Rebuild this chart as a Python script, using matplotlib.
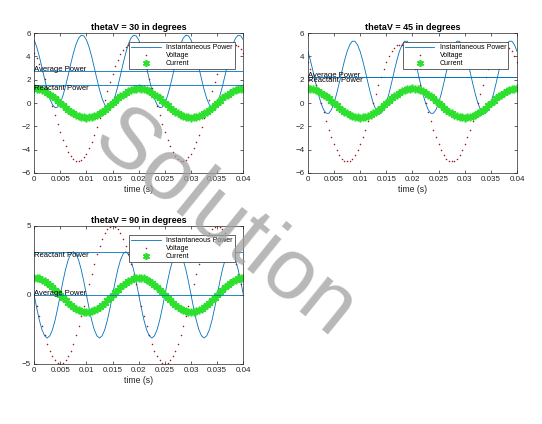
import matplotlib
matplotlib.use("Agg")
import matplotlib.pyplot as plt
from matplotlib.lines import Line2D
import numpy as np

plt.rcParams['font.family'] = ['Liberation Sans', 'DejaVu Sans']

# sample instants (s), step 0.5 ms
t = np.linspace(0, 0.04, 81)

# current is the same in every panel
current = [1.25, 1.23, 1.19, 1.11, 1.01, 0.88, 0.73, 0.57, 0.39, 0.20, 0.00,
           -0.20, -0.39, -0.57, -0.73, -0.88, -1.01, -1.11, -1.19, -1.23, -1.25,
           -1.23, -1.19, -1.11, -1.01, -0.88, -0.73, -0.57, -0.39, -0.20, 0.00,
           0.20, 0.39, 0.57, 0.73, 0.88, 1.01, 1.11, 1.19, 1.23, 1.25,
           1.23, 1.19, 1.11, 1.01, 0.88, 0.73, 0.57, 0.39, 0.20, 0.00,
           -0.20, -0.39, -0.57, -0.73, -0.88, -1.01, -1.11, -1.19, -1.23, -1.25,
           -1.23, -1.19, -1.11, -1.01, -0.88, -0.73, -0.57, -0.39, -0.20, 0.00,
           0.20, 0.39, 0.57, 0.73, 0.88, 1.01, 1.11, 1.19, 1.23, 1.25]

voltage_30 = [4.33, 3.89, 3.35, 2.72, 2.03, 1.29, 0.52, -0.26, -1.04, -1.79, -2.50,
              -3.15, -3.72, -4.19, -4.57, -4.83, -4.97, -4.99, -4.89, -4.67, -4.33,
              -3.89, -3.35, -2.72, -2.03, -1.29, -0.52, 0.26, 1.04, 1.79, 2.50,
              3.15, 3.72, 4.19, 4.57, 4.83, 4.97, 4.99, 4.89, 4.67, 4.33,
              3.89, 3.35, 2.72, 2.03, 1.29, 0.52, -0.26, -1.04, -1.79, -2.50,
              -3.15, -3.72, -4.19, -4.57, -4.83, -4.97, -4.99, -4.89, -4.67, -4.33,
              -3.89, -3.35, -2.72, -2.03, -1.29, -0.52, 0.26, 1.04, 1.79, 2.50,
              3.15, 3.72, 4.19, 4.57, 4.83, 4.97, 4.99, 4.89, 4.67, 4.33]

voltage_45 = [3.54, 2.94, 2.27, 1.55, 0.78, 0.00, -0.78, -1.55, -2.27, -2.94, -3.54,
              -4.05, -4.46, -4.76, -4.94, -5.00, -4.94, -4.76, -4.46, -4.05, -3.54,
              -2.94, -2.27, -1.55, -0.78, 0.00, 0.78, 1.55, 2.27, 2.94, 3.54,
              4.05, 4.46, 4.76, 4.94, 5.00, 4.94, 4.76, 4.46, 4.05, 3.54,
              2.94, 2.27, 1.55, 0.78, 0.00, -0.78, -1.55, -2.27, -2.94, -3.54,
              -4.05, -4.46, -4.76, -4.94, -5.00, -4.94, -4.76, -4.46, -4.05, -3.54,
              -2.94, -2.27, -1.55, -0.78, 0.00, 0.78, 1.55, 2.27, 2.94, 3.54,
              4.05, 4.46, 4.76, 4.94, 5.00, 4.94, 4.76, 4.46, 4.05, 3.54]

voltage_90 = [0.00, -0.78, -1.55, -2.27, -2.94, -3.54, -4.05, -4.46, -4.76, -4.94, -5.00,
              -4.94, -4.76, -4.46, -4.05, -3.54, -2.94, -2.27, -1.55, -0.78, 0.00,
              0.78, 1.55, 2.27, 2.94, 3.54, 4.05, 4.46, 4.76, 4.94, 5.00,
              4.94, 4.76, 4.46, 4.05, 3.54, 2.94, 2.27, 1.55, 0.78, 0.00,
              -0.78, -1.55, -2.27, -2.94, -3.54, -4.05, -4.46, -4.76, -4.94, -5.00,
              -4.94, -4.76, -4.46, -4.05, -3.54, -2.94, -2.27, -1.55, -0.78, 0.00,
              0.78, 1.55, 2.27, 2.94, 3.54, 4.05, 4.46, 4.76, 4.94, 5.00,
              4.94, 4.76, 4.46, 4.05, 3.54, 2.94, 2.27, 1.55, 0.78, 0.00]

power_30 = [5.41, 4.80, 3.98, 3.03, 2.06, 1.14, 0.38, -0.15, -0.40, -0.35,
            0.00, 0.62, 1.43, 2.38, 3.36, 4.27, 5.03, 5.56, 5.81, 5.76,
            5.41, 4.80, 3.98, 3.03, 2.06, 1.14, 0.38, -0.15, -0.40, -0.35,
            0.00, 0.62, 1.43, 2.38, 3.36, 4.27, 5.03, 5.56, 5.81, 5.76,
            5.41, 4.80, 3.98, 3.03, 2.06, 1.14, 0.38, -0.15, -0.40, -0.35,
            0.00, 0.62, 1.43, 2.38, 3.36, 4.27, 5.03, 5.56, 5.81, 5.76,
            5.41, 4.80, 3.98, 3.03, 2.06, 1.14, 0.38, -0.15, -0.40, -0.35,
            0.00, 0.62, 1.43, 2.38, 3.36, 4.27, 5.03, 5.56, 5.81, 5.76,
            5.41]

power_45 = [4.42, 3.63, 2.70, 1.72, 0.79, 0.00, -0.57, -0.88, -0.88, -0.57,
            0.00, 0.79, 1.72, 2.70, 3.63, 4.42, 4.99, 5.30, 5.30, 4.99,
            4.42, 3.63, 2.70, 1.72, 0.79, 0.00, -0.57, -0.88, -0.88, -0.57,
            0.00, 0.79, 1.72, 2.70, 3.63, 4.42, 4.99, 5.30, 5.30, 4.99,
            4.42, 3.63, 2.70, 1.72, 0.79, 0.00, -0.57, -0.88, -0.88, -0.57,
            0.00, 0.79, 1.72, 2.70, 3.63, 4.42, 4.99, 5.30, 5.30, 4.99,
            4.42, 3.63, 2.70, 1.72, 0.79, 0.00, -0.57, -0.88, -0.88, -0.57,
            0.00, 0.79, 1.72, 2.70, 3.63, 4.42, 4.99, 5.30, 5.30, 4.99,
            4.42]

power_90 = [0.00, -0.97, -1.84, -2.53, -2.97, -3.13, -2.97, -2.53, -1.84, -0.97,
            0.00, 0.97, 1.84, 2.53, 2.97, 3.13, 2.97, 2.53, 1.84, 0.97,
            0.00, -0.97, -1.84, -2.53, -2.97, -3.13, -2.97, -2.53, -1.84, -0.97,
            0.00, 0.97, 1.84, 2.53, 2.97, 3.13, 2.97, 2.53, 1.84, 0.97,
            0.00, -0.97, -1.84, -2.53, -2.97, -3.13, -2.97, -2.53, -1.84, -0.97,
            0.00, 0.97, 1.84, 2.53, 2.97, 3.13, 2.97, 2.53, 1.84, 0.97,
            0.00, -0.97, -1.84, -2.53, -2.97, -3.13, -2.97, -2.53, -1.84, -0.97,
            0.00, 0.97, 1.84, 2.53, 2.97, 3.13, 2.97, 2.53, 1.84, 0.97,
            0.00]

angles = [30, 45, 90]
voltages = [voltage_30, voltage_45, voltage_90]
powers = [power_30, power_45, power_90]
avg_power = [2.71, 2.21, 0.00]
reactant_power = [1.56, 2.21, 3.13]
y_limits = [(-6, 6), (-6, 6), (-5, 5)]
y_ticks = [[-6, -4, -2, 0, 2, 4, 6], [-6, -4, -2, 0, 2, 4, 6], [-5, 0, 5]]
x_ticks = [0, 0.005, 0.01, 0.015, 0.02, 0.025, 0.03, 0.035, 0.04]
x_labels = ['0', '0.005', '0.01', '0.015', '0.02', '0.025', '0.03', '0.035', '0.04']

BLUE = '#0072BD'
RED = '#a01818'
GREEN = '#2ee02e'
ASTERISK = (6, 2, 0)

fig = plt.figure(figsize=(5.42, 4.24), dpi=100)
boxes = [[0.063, 0.592, 0.386, 0.330],
         [0.568, 0.592, 0.386, 0.330],
         [0.063, 0.142, 0.386, 0.325]]

for i in range(3):
    ax = fig.add_axes(boxes[i])
    ax.plot(t, powers[i], color=BLUE, lw=0.6)
    ax.plot(t, voltages[i], '.', color=RED, ms=2.2, mew=0)
    ax.plot(t, current, ls='none', marker=ASTERISK, color=GREEN, ms=5.5, mew=1.2)
    ax.axhline(avg_power[i], color=BLUE, lw=0.6)
    ax.axhline(reactant_power[i], color=BLUE, lw=0.6)
    ax.text(0, avg_power[i], 'Average Power', fontsize=5.5, ha='left', va='baseline')
    ax.text(0, reactant_power[i], 'Reactant Power', fontsize=5.5, ha='left', va='top')
    ax.set_xlim(0, 0.04)
    ax.set_ylim(*y_limits[i])
    ax.set_xticks(x_ticks)
    ax.set_xticklabels(x_labels)
    ax.set_yticks(y_ticks[i])
    ax.tick_params(direction='in', top=True, right=True, labelsize=5.8,
                   length=2.5, width=0.5, color='#262626', labelcolor='#262626', pad=2.5)
    for s in ax.spines.values():
        s.set_linewidth(0.5)
        s.set_color('#262626')
    ax.set_title('thetaV = %d in degrees' % angles[i], fontsize=6.5, fontweight='bold', pad=2)
    ax.set_xlabel('time (s)', fontsize=6.3, labelpad=1, color='#262626')

    handles = [Line2D([], [], color=BLUE, lw=0.6),
               Line2D([], [], ls='none', marker='.', color=RED, ms=2.2, mew=0),
               Line2D([], [], ls='none', marker=ASTERISK, color=GREEN, ms=5, mew=1.2)]
    leg = ax.legend(handles, ['Instantaneous Power', 'Voltage', 'Current'],
                    loc='upper right', bbox_to_anchor=(0.975, 0.96), fontsize=5,
                    handlelength=4.2, handletextpad=0.8, borderpad=0.3,
                    labelspacing=0.15, fancybox=False, framealpha=1,
                    edgecolor='#262626')
    leg.get_frame().set_linewidth(0.5)

fig.text(0.413, 0.468, 'Solution', fontsize=62, color='#a0a0a0', alpha=0.75,
         rotation=-39, ha='center', va='center', zorder=20)

fig.savefig('out.png', dpi=100)
